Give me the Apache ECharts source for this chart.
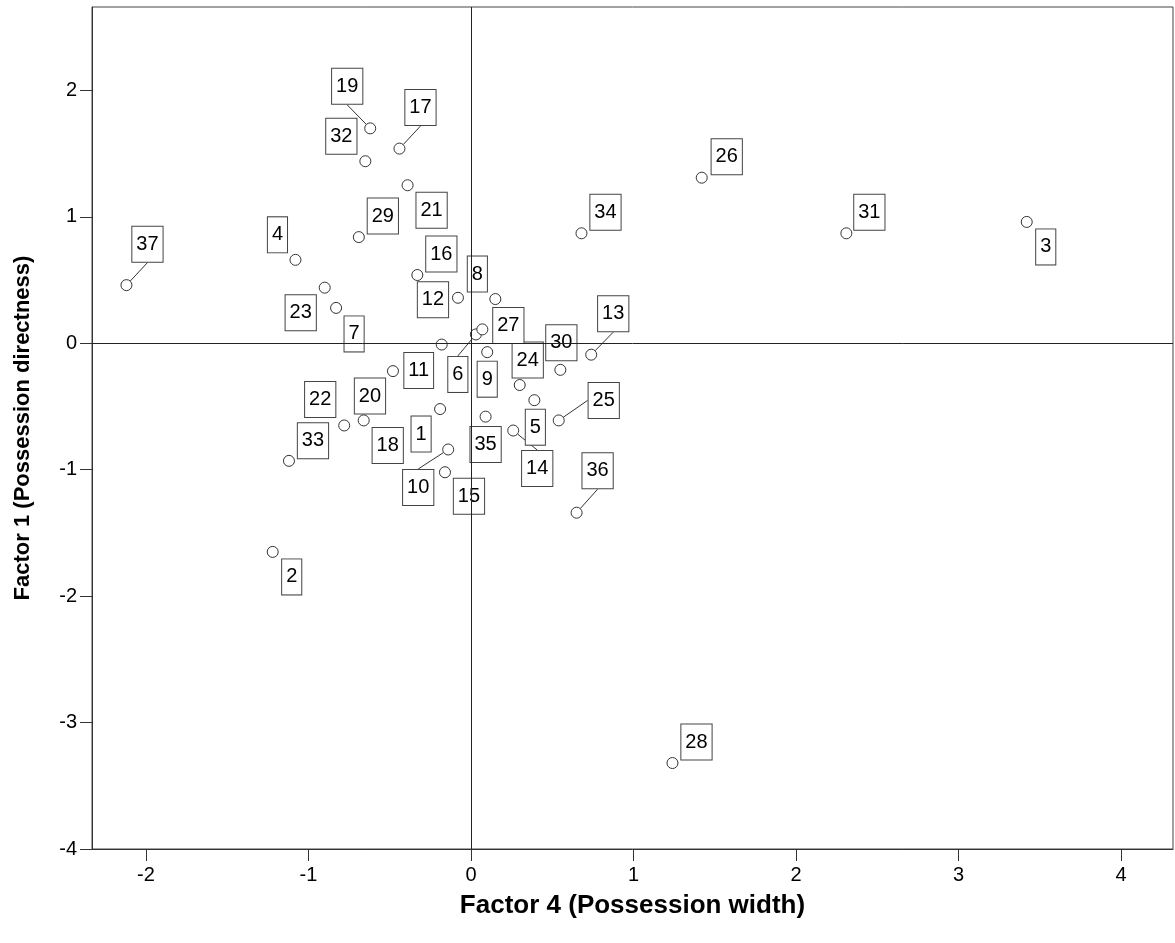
<!DOCTYPE html>
<html>
<head>
<meta charset="utf-8">
<title>Factor scores</title>
<script src="https://cdn.jsdelivr.net/npm/echarts@6/dist/echarts.min.js"></script>
<style>
  html, body { margin: 0; padding: 0; background: #fff; }
  #main { width: 1175px; height: 943px; }
</style>
</head>
<body>
<div id="main"></div>
<script>
// team ids and their factor scores
var teamIds = [1, 2, 3, 4, 5, 6, 7, 8, 9, 10,
               11, 12, 13, 14, 15, 16, 17, 18, 19, 20,
               21, 22, 23, 24, 25, 26, 27, 28, 29, 30,
               31, 32, 33, 34, 35, 36, 37];
var factor4 = [-0.19, -1.22, 3.42, -1.08, 0.39, 0.03, -0.83, 0.15, 0.10, -0.14,
               -0.18, -0.08, 0.74, 0.26, -0.16, -0.33, -0.44, -0.66, -0.62, -0.48,
               -0.39, -0.78, -0.90, 0.30, 0.54, 1.42, 0.07, 1.24, -0.69, 0.55,
               2.31, -0.65, -1.12, 0.68, 0.09, 0.65, -2.12];
var factor1 = [-0.52, -1.65, 0.96, 0.66, -0.45, 0.07, 0.28, 0.35, -0.07, -0.84,
               -0.01, 0.36, -0.09, -0.69, -1.02, 0.54, 1.54, -0.61, 1.70, -0.22,
               1.25, -0.65, 0.44, -0.33, -0.61, 1.31, 0.11, -3.32, 0.84, -0.21,
               0.87, 1.44, -0.93, 0.87, -0.58, -1.34, 0.46];
var xTicks = [-2, -1, 0, 1, 2, 3, 4];
var yTicks = [-4, -3, -2, -1, 0, 1, 2];

// where each id box sits relative to its point (px)
var labelOffsets = [[-19, 25], [19, 25], [19, 25], [-18, -25], [1, 27], [-18, 40], [18, 26], [-18, -25], [0, 27], [-30, 38],
                    [-23, 26], [-25, 2], [22, -41], [24, 38], [24, 24], [24, -21], [21, -41], [24, 25], [-23, -42], [-23, 25],
                    [24, 25], [-24, -26], [-24, 25], [8, -25], [45, -20], [25, -21], [26, -4], [24, -21], [24, -21], [1, -27],
                    [23, -21], [-24, -25], [24, -20], [24, -21], [0, 28], [21, -42], [21, -41]];

var points = teamIds.map(function (id, i) {
    var o = labelOffsets[i];
    // only boxes pushed well away from their point get a leader line
    var far = Math.sqrt(o[0] * o[0] + o[1] * o[1]) > 40;
    return { name: String(id), value: [factor4[i], factor1[i]], labelLine: { show: far } };
});

var font = '"Liberation Sans", Arial, sans-serif';
var myChart = echarts.init(document.getElementById('main'));
var option = {
    animation: false,
    grid: {
        left: 92, right: 2, top: 7, bottom: 94,
        show: true, borderColor: '#444', borderWidth: 1, backgroundColor: '#fff'
    },
    xAxis: {
        type: 'value',
        min: -2.332, max: 4.32,
        name: 'Factor 4 (Possession width)',
        nameLocation: 'middle',
        nameGap: 44,
        nameTextStyle: { fontFamily: font, fontWeight: 'bold', fontSize: 26, color: '#000' },
        axisLine: { show: true, onZero: false, lineStyle: { color: '#333' } },
        axisTick: { show: true, length: 12, customValues: xTicks, lineStyle: { color: '#333' } },
        axisLabel: { customValues: xTicks, margin: 16, fontFamily: font, fontSize: 20, color: '#000' },
        splitLine: { show: false }
    },
    yAxis: {
        type: 'value',
        min: -4, max: 2.66,
        name: 'Factor 1 (Possession directness)',
        nameLocation: 'middle',
        nameGap: 58,
        nameTextStyle: { fontFamily: font, fontWeight: 'bold', fontSize: 22, color: '#000' },
        axisLine: { show: true, onZero: false, lineStyle: { color: '#333' } },
        axisTick: { show: true, length: 12, customValues: yTicks, lineStyle: { color: '#333' } },
        axisLabel: { customValues: yTicks, margin: 15, fontFamily: font, fontSize: 20, color: '#000' },
        splitLine: { show: false }
    },
    series: [{
        type: 'scatter',
        data: points,
        symbol: 'circle',
        symbolSize: 11,
        itemStyle: { color: '#fff', borderColor: '#333', borderWidth: 1, opacity: 1 },
        label: {
            show: true,
            position: 'inside',
            formatter: '{b}',
            fontFamily: font,
            fontSize: 20,
            lineHeight: 22,
            color: '#000',
            backgroundColor: '#fff',
            borderColor: '#444',
            borderWidth: 1,
            padding: [7, 4, 6, 4]
        },
        labelLine: { show: false, lineStyle: { color: '#333', width: 1 } },
        labelLayout: function (params) {
            var o = labelOffsets[params.dataIndex];
            return { dx: o[0], dy: o[1] };
        },
        markLine: {
            silent: true,
            symbol: 'none',
            label: { show: false },
            lineStyle: { color: '#222', width: 1, type: 'solid' },
            data: [{ xAxis: 0 }, { yAxis: 0 }]
        }
    }]
};
myChart.setOption(option);
</script>
</body>
</html>
